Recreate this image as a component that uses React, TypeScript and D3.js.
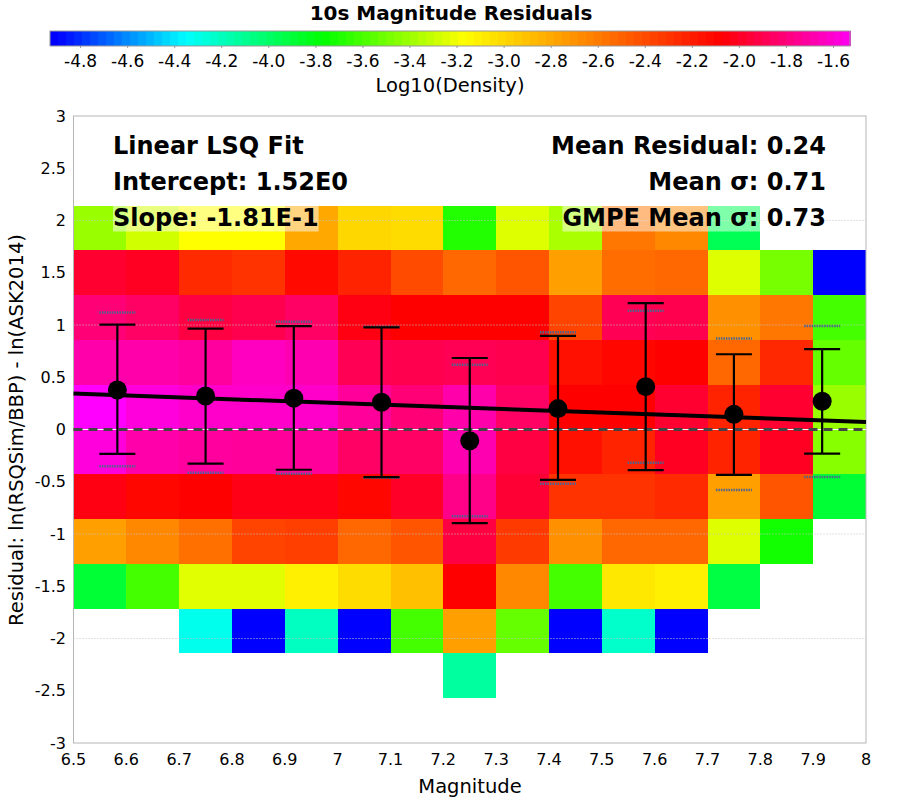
import { useEffect, useRef } from "react";
import * as d3 from "d3";

// magnitude bin starts (width 0.1)
const magBins = [6.5, 6.6, 6.7, 6.8, 6.9, 7.0, 7.1, 7.2, 7.3, 7.4, 7.5, 7.6, 7.7, 7.8, 7.9];
const magBinWidth = 0.1;
// residual bin tops (height 3/7)
const residBinTops = [2.143, 1.714, 1.286, 0.857, 0.429, 0, -0.429, -0.857, -1.286, -1.714, -2.143];
const residBinHeight = 0.4286;

// log10 density, one row per residual bin (top to bottom)
const densityRows: (number | null)[][] = [
  [-3.41, -3.28, -3.17, -3.17, -2.8, -3.0, -3.02, -3.69, -3.25, -3.37, -2.59, -2.66, -3.96, null, null],
  [-1.97, -2.0, -2.26, -2.3, -2.12, -2.23, -2.4, -2.52, -2.44, -2.76, -2.54, -2.52, -3.25, -3.49, -4.93],
  [-1.81, -1.85, -1.93, -1.9, -1.85, -2.04, -2.08, -2.08, -2.08, -2.37, -1.89, -1.9, -2.7, -2.59, -3.61],
  [-1.69, -1.69, -1.72, -1.64, -1.68, -1.89, -1.9, -1.89, -1.9, -2.15, -2.11, -2.08, -2.52, -2.25, -3.53],
  [-1.5, -1.58, -1.62, -1.62, -1.62, -1.73, -1.81, -1.69, -1.85, -2.08, -2.08, -1.97, -2.23, -1.97, -3.41],
  [-1.58, -1.69, -1.72, -1.73, -1.73, -1.85, -1.85, -1.68, -1.93, -2.15, -2.23, -2.0, -2.23, -2.0, -3.45],
  [-2.04, -2.11, -2.08, -2.03, -2.03, -2.11, -1.99, -1.77, -1.96, -2.3, -2.3, -2.26, -2.76, -2.44, -3.89],
  [-2.76, -2.66, -2.56, -2.37, -2.35, -2.52, -2.44, -1.93, -2.33, -2.7, -2.52, -2.52, -3.25, -3.73, null],
  [-3.89, -3.61, -3.24, -3.24, -3.1, -3.02, -2.9, -2.08, -2.66, -3.61, -3.07, -3.1, -3.92, null, null],
  [null, null, -4.31, -4.93, -4.21, -4.93, -3.61, -2.76, -3.53, -4.93, -4.23, -4.93, null, null, null],
  [null, null, null, null, null, null, null, -4.13, null, null, null, null, null, null, null],
];

// binned means and error bars
const binCenters = [6.583, 6.75, 6.917, 7.083, 7.25, 7.417, 7.583, 7.75, 7.917];
const binMeans = [0.378, 0.32, 0.3, 0.26, -0.107, 0.2, 0.41, 0.145, 0.27];
const binUpper = [1.003, 0.965, 0.99, 0.978, 0.684, 0.895, 1.21, 0.72, 0.77];
const binLower = [-0.234, -0.327, -0.385, -0.455, -0.895, -0.483, -0.388, -0.435, -0.23];
const gmpeUpper = [1.12, 1.048, 1.03, 0.984, 0.62, 0.93, 1.137, 0.87, 0.99];
const gmpeLower = [-0.352, -0.413, -0.423, -0.461, -0.83, -0.518, -0.318, -0.58, -0.455];

const fitIntercept = 1.52;
const fitSlope = -0.181;

const xTicks = [6.5, 6.6, 6.7, 6.8, 6.9, 7, 7.1, 7.2, 7.3, 7.4, 7.5, 7.6, 7.7, 7.8, 7.9, 8];
const yTicks = [-3, -2.5, -2, -1.5, -1, -0.5, 0, 0.5, 1, 1.5, 2, 2.5, 3];
const yGrid = [-2, -1, 1, 2];
const cbTicks = [-4.8, -4.6, -4.4, -4.2, -4.0, -3.8, -3.6, -3.4, -3.2, -3.0, -2.8, -2.6, -2.4, -2.2, -2.0, -1.8, -1.6];
const cbDomain = [-4.93, -1.53];

const leftLines = ["Linear LSQ Fit", "Intercept: 1.52E0", "Slope: -1.81E-1"];
const rightLines = ["Mean Residual: 0.24", "Mean \u03c3: 0.71", "GMPE Mean \u03c3: 0.73"];

const FONT = "'DejaVu Sans', sans-serif";

export default function App() {
  const svgRef = useRef<SVGSVGElement | null>(null);

  useEffect(() => {
    if (!svgRef.current) return;
    const svg = d3.select(svgRef.current);
    svg.selectAll("*").remove();

    const color = d3
      .scaleLinear<string>()
      .domain([-4.9, -4.35, -3.77, -3.17, -2.08, -1.5])
      .range(["#0000ff", "#00ffff", "#00ff00", "#ffff00", "#ff0000", "#ff00ff"])
      .clamp(true);

    // title + colorbar
    svg.append("text")
      .attr("x", 451).attr("y", 20)
      .attr("text-anchor", "middle")
      .attr("font-family", FONT).attr("font-weight", "bold").attr("font-size", 20)
      .text("10s Magnitude Residuals");

    const cx = d3.scaleLinear().domain(cbDomain).range([50, 850]);
    const steps = 100;
    const stepW = 800 / steps;
    svg.append("g")
      .selectAll("rect")
      .data(d3.range(steps))
      .join("rect")
      .attr("x", (i) => 50 + i * stepW)
      .attr("y", 31)
      .attr("width", stepW + 0.5)
      .attr("height", 15)
      .attr("fill", (i) => color(cx.invert(50 + (i + 0.5) * stepW)))
      .attr("shape-rendering", "crispEdges");
    svg.append("rect")
      .attr("x", 50).attr("y", 31).attr("width", 800).attr("height", 15)
      .attr("fill", "none").attr("stroke", "#999").attr("stroke-width", 1);

    const cbAxis = svg.append("g");
    cbAxis.selectAll("line")
      .data(cbTicks)
      .join("line")
      .attr("x1", (d) => cx(d)).attr("x2", (d) => cx(d))
      .attr("y1", 46).attr("y2", 48)
      .attr("stroke", "#999");
    cbAxis.selectAll("text")
      .data(cbTicks)
      .join("text")
      .attr("x", (d) => cx(d)).attr("y", 67)
      .attr("text-anchor", "middle")
      .attr("font-family", FONT).attr("font-size", 17)
      .text((d) => d3.format(".1f")(d).replace("\u2212", "-"));
    svg.append("text")
      .attr("x", 450).attr("y", 92)
      .attr("text-anchor", "middle")
      .attr("font-family", FONT).attr("font-size", 19.5)
      .text("Log10(Density)");

    // plot area
    const x = d3.scaleLinear().domain([6.5, 8]).range([73.5, 866]);
    const y = d3.scaleLinear().domain([-3, 3]).range([743, 116]);

    const cells = densityRows.flatMap((row, r) =>
      row.map((v, c) => ({ v, mag: magBins[c], top: residBinTops[r] }))
    ).filter((d) => d.v !== null);

    svg.append("g")
      .selectAll("rect")
      .data(cells)
      .join("rect")
      .attr("x", (d) => x(d.mag))
      .attr("y", (d) => y(d.top))
      .attr("width", (d) => x(d.mag + magBinWidth) - x(d.mag))
      .attr("height", (d) => y(d.top - residBinHeight) - y(d.top))
      .attr("fill", (d) => color(d.v as number))
      .attr("shape-rendering", "crispEdges");

    // grid
    svg.append("g")
      .selectAll("line")
      .data(yGrid)
      .join("line")
      .attr("x1", x(6.5)).attr("x2", x(8))
      .attr("y1", (d) => y(d)).attr("y2", (d) => y(d))
      .attr("stroke", "#c4c4c4")
      .attr("stroke-dasharray", "1,2");

    // border
    svg.append("rect")
      .attr("x", x(6.5)).attr("y", y(3))
      .attr("width", x(8) - x(6.5)).attr("height", y(-3) - y(3))
      .attr("fill", "none").attr("stroke", "#b5b5b5").attr("stroke-width", 1);

    // axes labels
    svg.append("g")
      .selectAll("text")
      .data(xTicks)
      .join("text")
      .attr("x", (d) => x(d)).attr("y", 765)
      .attr("text-anchor", "middle")
      .attr("font-family", FONT).attr("font-size", 16)
      .text((d) => String(d));
    svg.append("g")
      .selectAll("text")
      .data(yTicks)
      .join("text")
      .attr("x", 66).attr("y", (d) => y(d) + 5.5)
      .attr("text-anchor", "end")
      .attr("font-family", FONT).attr("font-size", 16)
      .text((d) => String(d));
    svg.append("text")
      .attr("x", 470).attr("y", 793)
      .attr("text-anchor", "middle")
      .attr("font-family", FONT).attr("font-size", 19.5)
      .text("Magnitude");
    svg.append("text")
      .attr("transform", `translate(23,430) rotate(-90)`)
      .attr("text-anchor", "middle")
      .attr("font-family", FONT).attr("font-size", 19.5)
      .text("Residual: ln(RSQSim/BBP) - ln(ASK2014)");

    // fit line
    svg.append("line")
      .attr("x1", x(6.5)).attr("y1", y(fitIntercept + fitSlope * 6.5))
      .attr("x2", x(8)).attr("y2", y(fitIntercept + fitSlope * 8))
      .attr("stroke", "#000").attr("stroke-width", 4);

    // zero line
    svg.append("line")
      .attr("x1", x(6.5)).attr("x2", x(8))
      .attr("y1", y(0)).attr("y2", y(0))
      .attr("stroke", "#444").attr("stroke-width", 3)
      .attr("stroke-dasharray", "9,6");

    // error bars
    const bars = binCenters.map((c, i) => ({
      c, mean: binMeans[i], hi: binUpper[i], lo: binLower[i], ghi: gmpeUpper[i], glo: gmpeLower[i],
    }));
    const capW = 18;
    const eb = svg.append("g");
    eb.selectAll("line.gm")
      .data(bars.flatMap((b) => [{ c: b.c, v: b.ghi }, { c: b.c, v: b.glo }]))
      .join("line")
      .attr("class", "gm")
      .attr("x1", (d) => x(d.c) - capW).attr("x2", (d) => x(d.c) + capW)
      .attr("y1", (d) => y(d.v)).attr("y2", (d) => y(d.v))
      .attr("stroke", "#50648c").attr("stroke-width", 2.5)
      .attr("stroke-dasharray", "1.5,1");
    eb.selectAll("line.v")
      .data(bars)
      .join("line")
      .attr("class", "v")
      .attr("x1", (d) => x(d.c)).attr("x2", (d) => x(d.c))
      .attr("y1", (d) => y(d.hi)).attr("y2", (d) => y(d.lo))
      .attr("stroke", "#000").attr("stroke-width", 2.2);
    eb.selectAll("line.cap")
      .data(bars.flatMap((b) => [{ c: b.c, v: b.hi }, { c: b.c, v: b.lo }]))
      .join("line")
      .attr("class", "cap")
      .attr("x1", (d) => x(d.c) - capW).attr("x2", (d) => x(d.c) + capW)
      .attr("y1", (d) => y(d.v)).attr("y2", (d) => y(d.v))
      .attr("stroke", "#000").attr("stroke-width", 2.2);
    eb.selectAll("circle")
      .data(bars)
      .join("circle")
      .attr("cx", (d) => x(d.c)).attr("cy", (d) => y(d.mean))
      .attr("r", 9.5)
      .attr("fill", "#000");

    // annotations
    const ann = svg.append("g")
      .attr("font-family", FONT).attr("font-weight", "bold").attr("font-size", 24);
    const lineY = [153.5, 189.5, 225.5];
    const addText = (s: string, xx: number, yy: number, anchor: string) => {
      const g = ann.append("g");
      const t = g.append("text").attr("x", xx).attr("y", yy).attr("text-anchor", anchor).text(s);
      const bb = (t.node() as SVGTextElement).getBBox();
      g.insert("rect", "text")
        .attr("x", bb.x).attr("y", bb.y).attr("width", bb.width).attr("height", bb.height)
        .attr("fill", "#fff").attr("fill-opacity", 0.5);
    };
    leftLines.forEach((s, i) => addText(s, 113, lineY[i], "start"));
    rightLines.forEach((s, i) => addText(s, 826, lineY[i], "end"));
  }, []);

  return (
    <svg
      ref={svgRef}
      width={900}
      height={800}
      style={{ position: "absolute", left: 0, top: 0, background: "#fff" }}
    />
  );
}
